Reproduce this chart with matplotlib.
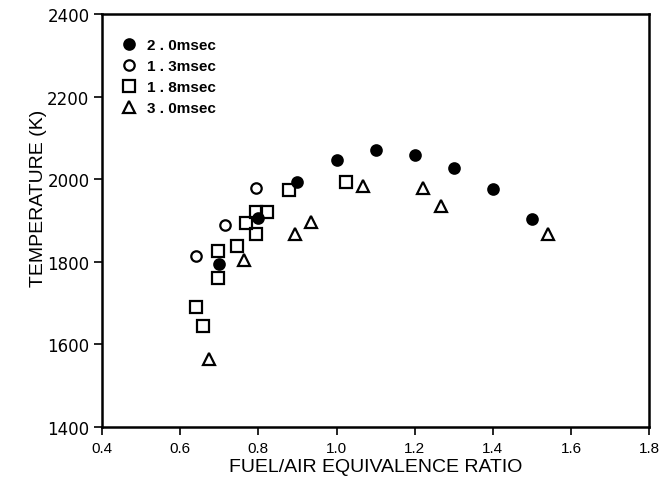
import matplotlib.pyplot as plt

# Temperature vs. fuel/air equivalence ratio at four residence times
phi_20 = [0.70, 0.80, 0.90, 1.00, 1.10, 1.20, 1.30, 1.40, 1.50]
temp_20 = [1795, 1906, 1993, 2047, 2071, 2059, 2027, 1977, 1903]

phi_13 = [0.64, 0.715, 0.795]
temp_13 = [1813, 1890, 1978]

phi_18 = [0.640, 0.659, 0.696, 0.696, 0.745, 0.768, 0.793, 0.794, 0.821, 0.879, 1.023]
temp_18 = [1690, 1645, 1760, 1825, 1839, 1893, 1867, 1920, 1920, 1975, 1992]

phi_30 = [0.674, 0.763, 0.893, 0.935, 1.067, 1.222, 1.268, 1.541]
temp_30 = [1565, 1805, 1867, 1896, 1984, 1978, 1934, 1867]

labels = ['2 . 0msec', '1 . 3msec', '1 . 8msec', '3 . 0msec']

plt.rcParams['font.family'] = ['Liberation Sans', 'DejaVu Sans']

fig = plt.figure(figsize=(6.66, 4.81), dpi=100)
ax = fig.add_axes([0.153, 0.110, 0.822, 0.859])

mk = dict(linestyle='none', color='black', markeredgewidth=1.6)
ax.plot(phi_20, temp_20, marker='o', markersize=7.5, markerfacecolor='black', label=labels[0], **mk)
ax.plot(phi_13, temp_13, marker='o', markersize=7.5, markerfacecolor='white', label=labels[1], **mk)
ax.plot(phi_18, temp_18, marker='s', markersize=8, markerfacecolor='none', label=labels[2], **mk)
ax.plot(phi_30, temp_30, marker='^', markersize=9, markerfacecolor='none', label=labels[3], **mk)

ax.set_xlim(0.4, 1.8)
ax.set_ylim(1400, 2400)
ax.set_xticks([0.4, 0.6, 0.8, 1.0, 1.2, 1.4, 1.6, 1.8])
ax.set_xticklabels(['0.4', '0.6', '0.8', '1.0', '1.2', '1.4', '1.6', '1.8'])
ax.set_yticks([1400, 1600, 1800, 2000, 2200, 2400])

for side in ['left', 'bottom', 'right', 'top']:
    ax.spines[side].set_linewidth(1.8)
ax.tick_params(axis='both', direction='out', length=6, width=1.2)
ax.tick_params(axis='x', labelsize=11, pad=4)
ax.tick_params(axis='y', labelsize=12, pad=3)
for t in ax.get_yticklabels():
    t.set_family('DejaVu Sans')

ax.set_xlabel('FUEL/AIR EQUIVALENCE RATIO', fontsize=14, labelpad=2)
ax.set_ylabel('TEMPERATURE (K)', fontsize=14)
ax.yaxis.set_label_coords(-0.10, 0.557)

ax.legend(loc='upper left', bbox_to_anchor=(0.01, 0.975), frameon=False,
          handlelength=1.0, handletextpad=0.7, labelspacing=0.46,
          prop={'family': 'Liberation Sans', 'weight': 'bold', 'size': 11})

fig.savefig('out.png', dpi=100)
